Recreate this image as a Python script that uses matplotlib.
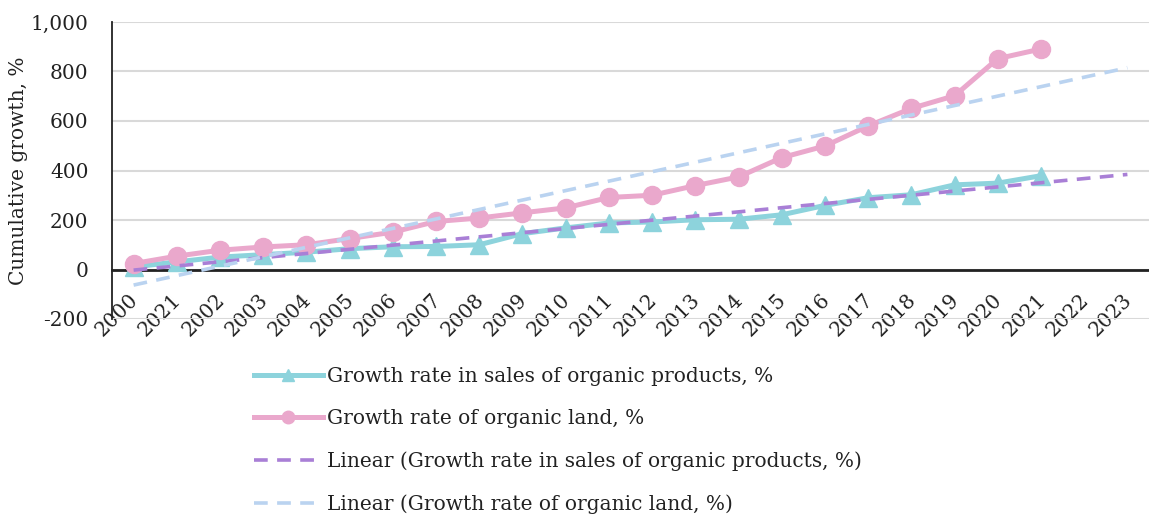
import numpy as np
import matplotlib
matplotlib.use("Agg")
import matplotlib.pyplot as plt
from matplotlib.ticker import FuncFormatter
from matplotlib.transforms import ScaledTranslation

plt.rcParams['font.family'] = ['DejaVu Serif']

# category labels as printed on the original (incl. the "2021" in 2nd place)
years = ['2000', '2021', '2002', '2003', '2004', '2005', '2006', '2007', '2008',
         '2009', '2010', '2011', '2012', '2013', '2014', '2015', '2016', '2017',
         '2018', '2019', '2020', '2021', '2022', '2023']

sales = [10, 31, 50, 60, 70, 84, 92, 93, 100, 145, 168, 188, 192, 201, 203,
         221, 259, 290, 302, 342, 349, 379]
land = [24, 54, 78, 91, 100, 125, 151, 194, 208, 229, 249, 291, 300, 339, 374,
        452, 499, 580, 651, 702, 852, 891]

c_sales = '#8dd3dc'
c_land = '#eaa8cc'
c_sales_tr = '#a97fd6'
c_land_tr = '#bad3f0'
txt = '#222222'
fs = 14.5

x_all = np.arange(len(years))
x_data = np.arange(len(sales))

# linear trendlines, forecast forward to the end of the category axis
p_sales = np.polyfit(x_data, sales, 1)
p_land = np.polyfit(x_data, land, 1)

fig = plt.figure(figsize=(11.49, 5.18), dpi=100)
ax = fig.add_axes([112 / 1149, 1 - 319 / 518, 1 - 112 / 1149, (319 - 22) / 518])

ax.plot(x_data, sales, color=c_sales, lw=3.6, marker='^', ms=13, zorder=3,
        label='Growth rate in sales of organic products, %')
ax.plot(x_data, land, color=c_land, lw=3.6, marker='o', ms=13, zorder=4,
        label='Growth rate of organic land, %')
ax.plot(x_all, np.polyval(p_sales, x_all), color=c_sales_tr, lw=2.6,
        dashes=(3.8, 2.6), zorder=5,
        label='Linear (Growth rate in sales of organic products, %)')
ax.plot(x_all, np.polyval(p_land, x_all), color=c_land_tr, lw=2.6,
        dashes=(3.8, 2.6), zorder=5,
        label='Linear (Growth rate of organic land, %)')

ax.set_xlim(-0.5, len(years) - 0.5)
ax.set_ylim(-200, 1000)
ax.set_yticks(range(-200, 1001, 200))
ax.yaxis.set_major_formatter(FuncFormatter(lambda v, p: f'{int(v):,}'))
ax.grid(axis='y', color='#d9d9d9', lw=1.5, zorder=0)
ax.set_axisbelow(True)

for s in ['top', 'right']:
    ax.spines[s].set_visible(False)
ax.spines['left'].set_color(txt)
ax.spines['left'].set_linewidth(1.3)
ax.spines['bottom'].set_position(('data', 0))
ax.spines['bottom'].set_color(txt)
ax.spines['bottom'].set_linewidth(2)
ax.spines['bottom'].set_zorder(2)

ax.set_xticks(x_all)
ax.set_xticklabels(years, rotation=45, ha='right', va='top',
                   rotation_mode='anchor')
ax.tick_params(axis='x', length=0, pad=15, labelsize=fs, colors=txt)
ax.tick_params(axis='y', length=0, pad=17, labelsize=fs, colors=txt)
for t in ax.get_xticklabels():
    t.set_transform(t.get_transform() + ScaledTranslation(-5 / 100, 0, fig.dpi_scale_trans))

ax.set_ylabel('Cumulative growth, %', fontsize=fs, color=txt)
ax.yaxis.set_label_coords((28 - 112) / 1037, 0.5)

leg = fig.legend(loc='upper left', bbox_to_anchor=(246 / 1149, 1 - 359 / 518),
                 frameon=False, fontsize=fs, handlelength=3.4, handletextpad=0.2,
                 labelspacing=1.15, labelcolor=txt, borderaxespad=0)
for h in leg.legend_handles:
    h.set_markersize(9)

fig.savefig('out.png', dpi=100)
